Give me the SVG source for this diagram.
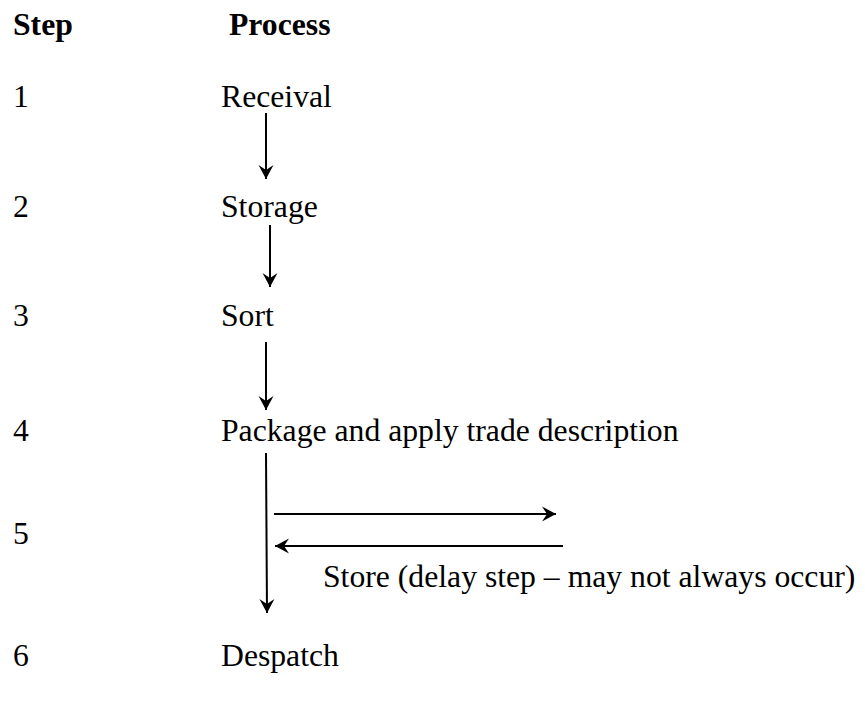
<svg xmlns="http://www.w3.org/2000/svg" width="865" height="704" viewBox="0 0 865 704">
  <style>
    text { font-family: "Liberation Serif", "Times New Roman", serif; font-size: 31.7px; fill: #000; }
    .head { font-weight: bold; }
    .conn { stroke: #000; stroke-width: 2; fill: none; }
    .head-tip { fill: #000; stroke: none; }
  </style>
  <defs>
    <marker id="tip" viewBox="-15 -8 16 16" refX="0" refY="0" markerWidth="16" markerHeight="16" markerUnits="userSpaceOnUse" orient="auto">
      <path class="head-tip" d="M0,0 L-14,-7.5 L-9,0 L-14,7.5 Z"/>
    </marker>
  </defs>

  <rect width="865" height="704" fill="#fff"/>

  <!-- column headings -->
  <g id="headings">
    <text class="head" x="13" y="35">Step</text>
    <text class="head" x="229" y="35">Process</text>
  </g>

  <!-- process steps -->
  <g id="step1">
    <text x="13" y="107">1</text>
    <text x="221" y="107">Receival</text>
  </g>
  <g id="step2">
    <text x="13" y="217">2</text>
    <text x="221" y="217">Storage</text>
  </g>
  <g id="step3">
    <text x="13" y="326">3</text>
    <text x="221" y="326">Sort</text>
  </g>
  <g id="step4">
    <text x="13" y="441">4</text>
    <text x="221" y="441">Package and apply trade description</text>
  </g>
  <g id="step5">
    <text x="13" y="544">5</text>
    <text x="323" y="587">Store (delay step – may not always occur)</text>
  </g>
  <g id="step6">
    <text x="13" y="666">6</text>
    <text x="221" y="666">Despatch</text>
  </g>

  <!-- connectors -->
  <g id="connectors">
    <line class="conn" x1="266" y1="113" x2="266" y2="179" marker-end="url(#tip)"/>
    <line class="conn" x1="270" y1="225" x2="270" y2="287" marker-end="url(#tip)"/>
    <line class="conn" x1="266" y1="342" x2="266" y2="410" marker-end="url(#tip)"/>
    <line class="conn" x1="266" y1="453" x2="267" y2="613" marker-end="url(#tip)"/>
    <line class="conn" x1="274" y1="514" x2="556" y2="514" marker-end="url(#tip)"/>
    <line class="conn" x1="563" y1="546" x2="275" y2="546" marker-end="url(#tip)"/>
  </g>
</svg>
